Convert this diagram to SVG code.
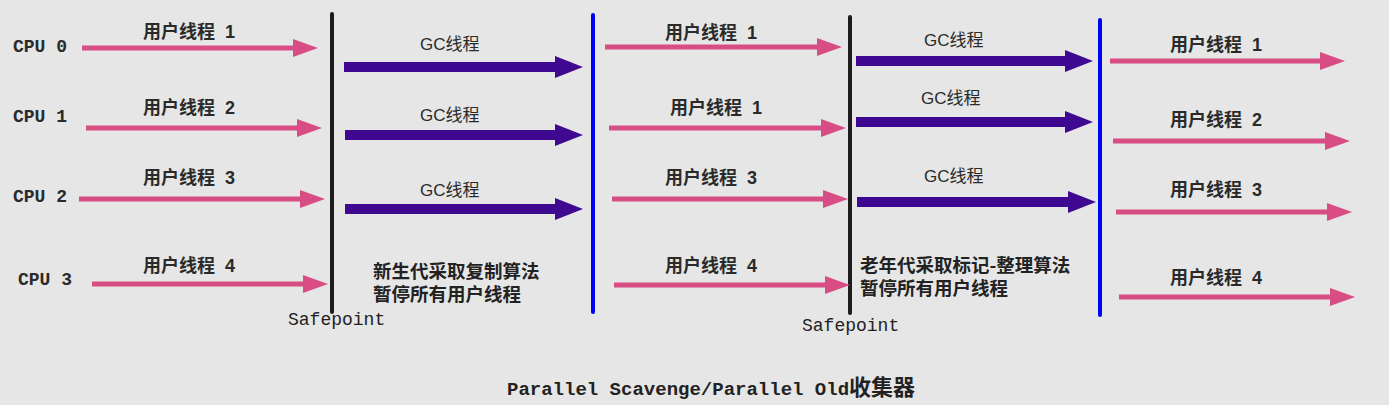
<svg xmlns="http://www.w3.org/2000/svg" width="1389" height="407" viewBox="0 0 1389 407">
<style>
.cpu{font-family:"Liberation Mono",monospace;font-weight:bold;font-size:18px;fill:#2a2a2a}
.ut{font-family:"Liberation Sans","Noto Sans CJK SC",sans-serif;font-weight:bold;font-size:18px;fill:#2a2a2a}
.gc{font-family:"Liberation Sans","Noto Sans CJK SC",sans-serif;font-size:17px;fill:#2a2a2a}
.note{font-family:"Noto Sans CJK SC",sans-serif;font-weight:bold;font-size:18.5px;fill:#222}
.sp{font-family:"Liberation Mono",monospace;font-size:18px;fill:#222}
.title{font-family:"Liberation Mono","Noto Sans CJK SC",monospace;font-weight:bold;font-size:19px;fill:#222}
.cjk{font-family:"Noto Sans CJK SC",sans-serif;font-size:22px}
.pink{stroke:#d84d84;stroke-width:5;fill:none}
.purple{stroke:#3f0890;stroke-width:10;fill:none}
.black{stroke:#1c1c1c;stroke-width:4;stroke-linecap:round}
.blue{stroke:#0000f2;stroke-width:4;stroke-linecap:round}
</style>
<defs>
<marker id="ph" markerUnits="userSpaceOnUse" markerWidth="26" markerHeight="20" refX="1" refY="9.5" orient="auto">
<path d="M0,0.5 L25,9.5 L0,18.5 z" fill="#d84d84"/>
</marker>
<marker id="gh" markerUnits="userSpaceOnUse" markerWidth="29" markerHeight="24" refX="1" refY="11.5" orient="auto">
<path d="M0,0.5 L28,11.5 L0,22.5 z" fill="#3f0890"/>
</marker>
</defs>
<rect x="0" y="0" width="1389" height="405" fill="#e6e6e6"/>
<rect x="0" y="405" width="1389" height="2" fill="#ffffff"/>

<g id="barriers">
<line class="black" x1="332" y1="14" x2="332" y2="312"/>
<line class="blue" x1="593" y1="15" x2="593" y2="312"/>
<line class="black" x1="850" y1="17" x2="850" y2="313"/>
<line class="blue" x1="1100" y1="20" x2="1100" y2="315"/>
</g>

<g id="connectors">
<line class="pink" x1="82" y1="48" x2="294" y2="48" marker-end="url(#ph)"/>
<line class="pink" x1="86" y1="128" x2="298" y2="128" marker-end="url(#ph)"/>
<line class="pink" x1="79" y1="199" x2="301" y2="199" marker-end="url(#ph)"/>
<line class="pink" x1="92" y1="284" x2="304" y2="284" marker-end="url(#ph)"/>

<line class="purple" x1="344" y1="67" x2="556" y2="67" marker-end="url(#gh)"/>
<line class="purple" x1="345" y1="135" x2="556" y2="135" marker-end="url(#gh)"/>
<line class="purple" x1="345" y1="209" x2="556" y2="209" marker-end="url(#gh)"/>

<line class="pink" x1="605" y1="47" x2="818" y2="47" marker-end="url(#ph)"/>
<line class="pink" x1="609" y1="128" x2="822" y2="128" marker-end="url(#ph)"/>
<line class="pink" x1="612" y1="199" x2="824" y2="199" marker-end="url(#ph)"/>
<line class="pink" x1="614" y1="285" x2="826" y2="285" marker-end="url(#ph)"/>

<line class="purple" x1="856" y1="61" x2="1066" y2="61" marker-end="url(#gh)"/>
<line class="purple" x1="856" y1="122" x2="1066" y2="122" marker-end="url(#gh)"/>
<line class="purple" x1="857" y1="202" x2="1069" y2="202" marker-end="url(#gh)"/>

<line class="pink" x1="1110" y1="61" x2="1321" y2="61" marker-end="url(#ph)"/>
<line class="pink" x1="1113" y1="141" x2="1326" y2="141" marker-end="url(#ph)"/>
<line class="pink" x1="1116" y1="212" x2="1328" y2="212" marker-end="url(#ph)"/>
<line class="pink" x1="1119" y1="297" x2="1331" y2="297" marker-end="url(#ph)"/>
</g>

<g id="cpu-labels">
<text class="cpu" x="13" y="52">CPU 0</text>
<text class="cpu" x="13" y="122">CPU 1</text>
<text class="cpu" x="13" y="202">CPU 2</text>
<text class="cpu" x="18" y="285">CPU 3</text>
</g>

<g id="user-threads-1">
<text class="ut" x="143" y="38">用户线程 <tspan dx="5">1</tspan></text>
<text class="ut" x="143" y="114">用户线程 <tspan dx="5">2</tspan></text>
<text class="ut" x="143" y="184">用户线程 <tspan dx="5">3</tspan></text>
<text class="ut" x="143" y="272">用户线程 <tspan dx="5">4</tspan></text>
</g>

<g id="gc-young">
<text class="gc" x="420" y="50">GC线程</text>
<text class="gc" x="420" y="121">GC线程</text>
<text class="gc" x="420" y="196">GC线程</text>
<text class="note"><tspan x="373" y="278">新生代采取复制算法</tspan><tspan x="373" y="301">暂停所有用户线程</tspan></text>
</g>

<g id="user-threads-2">
<text class="ut" x="665" y="39">用户线程 <tspan dx="5">1</tspan></text>
<text class="ut" x="670" y="114">用户线程 <tspan dx="5">1</tspan></text>
<text class="ut" x="665" y="184">用户线程 <tspan dx="5">3</tspan></text>
<text class="ut" x="665" y="272">用户线程 <tspan dx="5">4</tspan></text>
</g>

<g id="gc-old">
<text class="gc" x="924" y="46">GC线程</text>
<text class="gc" x="921" y="104">GC线程</text>
<text class="gc" x="924" y="182">GC线程</text>
<text class="note"><tspan x="860" y="272">老年代采取标记-整理算法</tspan><tspan x="860" y="295">暂停所有用户线程</tspan></text>
</g>

<g id="user-threads-3">
<text class="ut" x="1170" y="51">用户线程 <tspan dx="5">1</tspan></text>
<text class="ut" x="1170" y="126">用户线程 <tspan dx="5">2</tspan></text>
<text class="ut" x="1170" y="196">用户线程 <tspan dx="5">3</tspan></text>
<text class="ut" x="1170" y="284">用户线程 <tspan dx="5">4</tspan></text>
</g>

<g id="safepoints">
<text class="sp" x="288" y="325">Safepoint</text>
<text class="sp" x="802" y="331">Safepoint</text>
</g>

<g id="title">
<text class="title" x="507" y="395">Parallel Scavenge/Parallel Old<tspan class="cjk">收集器</tspan></text>
</g>
</svg>
